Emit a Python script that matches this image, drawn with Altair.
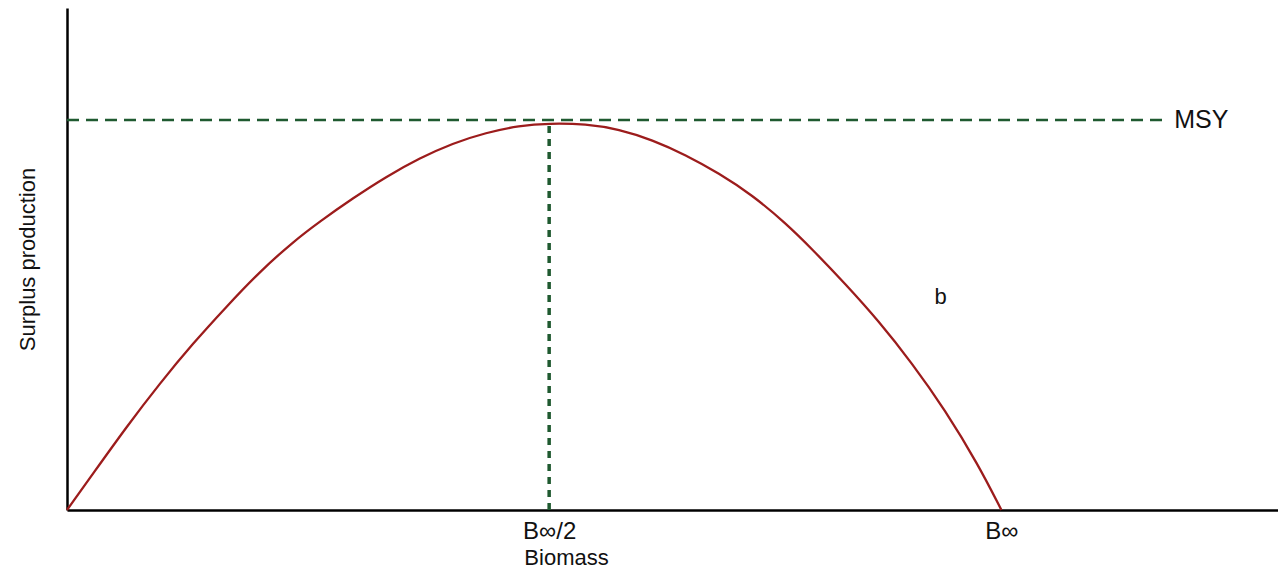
import altair as alt
import pandas as pd

# Surplus production curve (biomass as % of B-infinity, production as % of MSY)
biomass = [0, 2.81, 6.38, 9.94, 13.49, 17.06, 20.62, 24.18, 27.03, 30.59, 34.16, 37.71,
           41.27, 44.84, 48.40, 51.60, 55.52, 59.08, 62.64, 66.21, 69.76, 73.32, 76.89,
           79.73, 83.30, 86.86, 90.42, 93.98, 97.54, 100]
production = [0, 9.41, 21.36, 32.49, 42.74, 52.13, 61.10, 68.72, 73.92, 79.92, 85.46, 90.18,
              94.03, 96.74, 98.54, 99.15, 98.97, 97.62, 94.87, 91.03, 86.33, 80.77, 73.59,
              66.92, 57.95, 48.46, 37.69, 25.64, 11.54, 0]

msy_level = 100
msy_end = 117.3
bmsy = 51.6
binf = 100
tick_values = [bmsy, binf]
msy_label = ["MSY"]
msy_label_x = [118.5]
b_label = ["b"]
b_label_x = [93.5]
b_label_y = [54.6]

X_MAX = 129.6
Y_MAX = 128.7
FONT = "Liberation Sans"
GREEN = "#1f5a30"
RED = "#9c1c1c"
INK = "#111111"

curve_df = pd.DataFrame({"Biomass": biomass, "Production": production})

xscale = alt.Scale(domain=[0, X_MAX], nice=False, zero=True)
yscale = alt.Scale(domain=[0, Y_MAX], nice=False, zero=True)

x_axis = alt.Axis(
    values=tick_values,
    labelExpr="datum.value < 60 ? 'B\u221e/2' : 'B\u221e'",
    ticks=False,
    grid=False,
    domainColor="black",
    domainWidth=2.5,
    labelFont=FONT,
    labelFontSize=24,
    labelColor=INK,
    labelPadding=9,
    title="Biomass",
    titleFont=FONT,
    titleFontSize=22,
    titleFontWeight="normal",
    titleColor=INK,
    titleX=499,
    titleY=54,
    titleBaseline="alphabetic",
)
y_axis = alt.Axis(
    values=[],
    ticks=False,
    labels=False,
    grid=False,
    domainColor="black",
    domainWidth=2.5,
    title="Surplus production",
    titleFont=FONT,
    titleFontSize=22,
    titleFontWeight="normal",
    titleColor=INK,
    titlePadding=28,
)

curve = alt.Chart(curve_df).mark_line(
    color=RED, strokeWidth=2.3, interpolate="basis"
).encode(
    x=alt.X("Biomass:Q", scale=xscale, axis=x_axis),
    y=alt.Y("Production:Q", scale=yscale, axis=y_axis),
)

hline_df = pd.DataFrame({"x": [0], "x2": [msy_end], "y": [msy_level]})
hline = alt.Chart(hline_df).mark_rule(
    color=GREEN, strokeWidth=2.5, strokeDash=[12, 7]
).encode(
    x=alt.X("x:Q", scale=xscale),
    x2="x2:Q",
    y=alt.Y("y:Q", scale=yscale),
)

vline_df = pd.DataFrame({"x": [bmsy], "y": [0], "y2": [production[15]]})
vline = alt.Chart(vline_df).mark_rule(
    color=GREEN, strokeWidth=3.5, strokeDash=[7, 6]
).encode(
    x=alt.X("x:Q", scale=xscale),
    y=alt.Y("y:Q", scale=yscale),
    y2="y2:Q",
)

msy_df = pd.DataFrame({"t": msy_label, "x": msy_label_x, "y": [msy_level]})
msy_text = alt.Chart(msy_df).mark_text(
    align="left", baseline="middle", font=FONT, fontSize=25, color=INK
).encode(
    x=alt.X("x:Q", scale=xscale),
    y=alt.Y("y:Q", scale=yscale),
    text="t:N",
)

b_df = pd.DataFrame({"t": b_label, "x": b_label_x, "y": b_label_y})
b_text = alt.Chart(b_df).mark_text(
    align="center", baseline="middle", font=FONT, fontSize=22, color=INK
).encode(
    x=alt.X("x:Q", scale=xscale),
    y=alt.Y("y:Q", scale=yscale),
    text="t:N",
)

chart = alt.layer(curve, hline, vline, msy_text, b_text).properties(
    width=1211,
    height=502,
    autosize=alt.AutoSizeParams(type="none"),
    padding={"left": 59, "top": 0, "right": 0, "bottom": 58},
).configure(background="white").configure_view(stroke=None)

chart.save("out.html", embed_options={"renderer": "svg", "actions": False})
